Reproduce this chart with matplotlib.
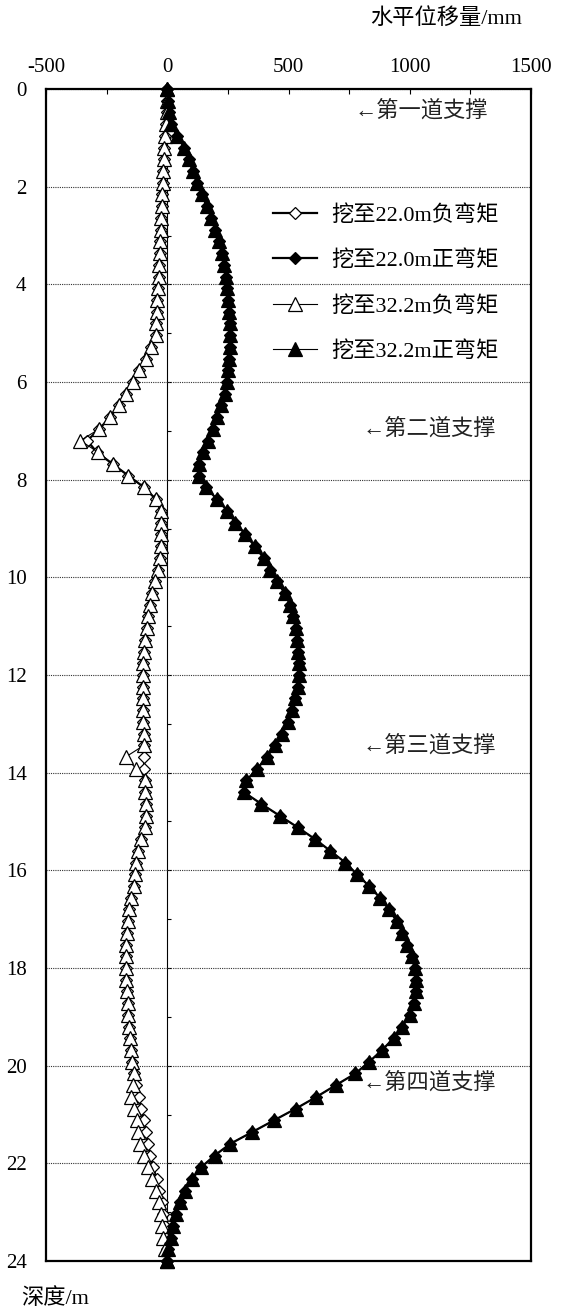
import matplotlib
matplotlib.use("Agg")
import matplotlib.pyplot as plt
from matplotlib.ticker import FixedLocator, MultipleLocator

plt.rcParams["font.family"] = ["Liberation Serif", "Noto Sans CJK SC", "DejaVu Sans"]
plt.rcParams["axes.unicode_minus"] = False

# Node depths along the wall (m)
depth = [0.00, 0.24, 0.48, 0.72, 0.96, 1.20, 1.44, 1.68, 1.92, 2.16,
         2.40, 2.64, 2.88, 3.12, 3.36, 3.60, 3.84, 4.08, 4.32, 4.56,
         4.80, 5.04, 5.28, 5.52, 5.76, 6.00, 6.24, 6.48, 6.72, 6.96,
         7.20, 7.44, 7.68, 7.92, 8.16, 8.40, 8.64, 8.88, 9.12, 9.36,
         9.60, 9.84, 10.08, 10.32, 10.56, 10.80, 11.04, 11.28, 11.52, 11.76,
         12.00, 12.24, 12.48, 12.72, 12.96, 13.20, 13.44, 13.68, 13.92, 14.16,
         14.40, 14.64, 14.88, 15.12, 15.36, 15.60, 15.84, 16.08, 16.32, 16.56,
         16.80, 17.04, 17.28, 17.52, 17.76, 18.00, 18.24, 18.48, 18.72, 18.96,
         19.20, 19.44, 19.68, 19.92, 20.16, 20.40, 20.64, 20.88, 21.12, 21.36,
         21.60, 21.84, 22.08, 22.32, 22.56, 22.80, 23.04, 23.28, 23.52, 23.76,
         24.00]

# Excavation to 22.0 m
neg_22 = [0, -1, -3, -6, -10, -12, -14, -16, -18, -20,
          -22, -24, -26, -28, -30, -33, -36, -39, -42, -44,
          -46, -48, -66, -88, -115, -141, -170, -200, -236, -280,
          -330, -290, -225, -160, -95, -47, -27, -26, -26, -27,
          -29, -38, -51, -63, -72, -79, -85, -90, -94, -98,
          -99, -100, -100, -99, -98, -97, -96, -96, -95, -93,
          -90, -88, -86, -93, -108, -120, -127, -132, -138, -148,
          -156, -163, -167, -169, -170, -170, -169, -166, -163, -160,
          -157, -153, -150, -146, -136, -128, -118, -107, -96, -88,
          -80, -70, -58, -44, -33, -22, -16, -10, -6, -3,
          0]
pos_22 = [0, 2, 6, 16, 40, 70, 88, 105, 122, 142,
          163, 182, 198, 212, 225, 234, 241, 247, 252, 256,
          258, 259, 258, 255, 251, 246, 237, 222, 205, 187,
          167, 146, 129, 132, 160, 205, 248, 280, 322, 360,
          397, 425, 452, 484, 506, 519, 530, 537, 541, 544,
          544, 538, 528, 514, 496, 474, 446, 410, 371, 326,
          316, 388, 463, 538, 609, 672, 734, 782, 832, 877,
          914, 946, 970, 990, 1008, 1020, 1027, 1027, 1017, 1000,
          970, 933, 886, 833, 776, 695, 615, 530, 440, 350,
          260, 195, 140, 103, 74, 52, 36, 25, 14, 5,
          0]

# Excavation to 32.2 m
neg_32 = [0, -1, -3, -6, -10, -12, -14, -16, -18, -20,
          -22, -24, -26, -28, -30, -33, -36, -39, -42, -44,
          -46, -48, -66, -88, -115, -141, -170, -200, -236, -280,
          -358, -285, -225, -160, -95, -47, -27, -26, -26, -27,
          -29, -38, -51, -63, -72, -79, -85, -90, -94, -98,
          -99, -100, -100, -99, -98, -97, -96, -172, -128, -93,
          -90, -88, -86, -93, -108, -120, -127, -132, -138, -148,
          -156, -163, -167, -169, -170, -170, -169, -166, -163, -160,
          -157, -153, -150, -146, -138, -140, -150, -137, -126, -121,
          -112, -95, -78, -62, -47, -36, -27, -23, -17, -11,
          0]
pos_32 = [0, 2, 6, 16, 40, 70, 88, 105, 122, 142,
          163, 182, 198, 212, 225, 234, 241, 247, 252, 256,
          258, 259, 258, 255, 251, 246, 237, 222, 205, 187,
          167, 146, 129, 132, 160, 205, 248, 280, 322, 360,
          397, 425, 452, 484, 506, 519, 530, 537, 541, 544,
          544, 538, 528, 514, 496, 474, 446, 410, 371, 326,
          316, 388, 463, 538, 609, 672, 734, 782, 832, 877,
          914, 946, 970, 990, 1008, 1020, 1027, 1027, 1017, 1000,
          970, 933, 886, 833, 776, 695, 615, 530, 440, 350,
          260, 195, 140, 103, 74, 52, 36, 25, 14, 5,
          0]

series_labels = ["挖至22.0m负弯矩", "挖至22.0m正弯矩", "挖至32.2m负弯矩", "挖至32.2m正弯矩"]
x_ticks = [-500, 0, 500, 1000, 1500]
y_ticks = [0, 2, 4, 6, 8, 10, 12, 14, 16, 18, 20, 22, 24]
support_labels = ["←第一道支撑", "←第二道支撑", "←第三道支撑", "←第四道支撑"]
support_depths = [0.45, 6.96, 13.45, 20.35]

FS_TICK = 15
FS_TEXT = 16
x_min, x_max = -500, 1500

fig = plt.figure(figsize=(5.61, 13.11), dpi=100)
ax = fig.add_axes([46 / 561, 1 - 1261 / 1311, 485 / 561, 1172 / 1311])

ax.set_xlim(x_min, x_max)
ax.set_ylim(24, 0)

styles = [
    dict(marker="D", ms=6, mfc="white", lw=1.6),
    dict(marker="D", ms=6, mfc="black", lw=1.6),
    dict(marker="^", ms=10, mfc="white", lw=0.8),
    dict(marker="^", ms=10, mfc="black", lw=0.8),
]
for vals, lab, st in zip([neg_22, pos_22, neg_32, pos_32], series_labels, styles):
    ax.plot(vals, depth, color="black", mec="black", mew=0.9, label=lab,
            clip_on=False, zorder=3, **st)

# x axis on top, inward ticks every 250
ax.xaxis.tick_top()
ax.xaxis.set_major_locator(FixedLocator(x_ticks))
ax.xaxis.set_minor_locator(MultipleLocator(250))
ax.set_xticklabels([str(v) for v in x_ticks])
ax.tick_params(axis="x", which="both", direction="in", length=3.6, width=0.8,
               top=True, bottom=False, labeltop=True, labelbottom=False,
               labelsize=FS_TICK, pad=9)

# depth labels on the left frame, ticks drawn on the zero line instead
ax.yaxis.set_major_locator(FixedLocator(y_ticks))
ax.set_yticklabels([str(v) for v in y_ticks])
ax.tick_params(axis="y", which="both", length=0, labelsize=FS_TICK, pad=14)

ax.grid(axis="y", which="major", linestyle=(0, (1, 1)), color="#333333", linewidth=0.8)
ax.set_axisbelow(True)

for sp in ax.spines.values():
    sp.set_linewidth(1.6)

zero_axis = ax.secondary_yaxis((0 - x_min) / (x_max - x_min))
zero_axis.yaxis.set_major_locator(MultipleLocator(2))
zero_axis.yaxis.set_minor_locator(MultipleLocator(1))
zero_axis.tick_params(axis="y", which="both", direction="in", length=3, width=0.8,
                      labelleft=False, labelright=False)
zero_axis.spines["left"].set_linewidth(0.8)

leg = ax.legend(loc="upper left", bbox_to_anchor=(273 / 561, 1 - 205 / 1311),
                bbox_transform=fig.transFigure, frameon=False, fontsize=FS_TEXT,
                borderpad=0, borderaxespad=0, handlelength=1.98, handletextpad=0.66,
                labelspacing=1.11)

for lab, d, xoff in zip(support_labels, support_depths, [774, 807, 807, 807]):
    ax.text(xoff, d, lab, fontsize=FS_TEXT, va="center", ha="left", color="#222222")

fig.text(522 / 561, 1 - 18.5 / 1311, "水平位移量/mm", fontsize=FS_TEXT, ha="right", va="center")
fig.text(21 / 561, 1 - 1299 / 1311, "深度/m", fontsize=FS_TEXT, ha="left", va="center")

fig.savefig("out.png", dpi=100)
